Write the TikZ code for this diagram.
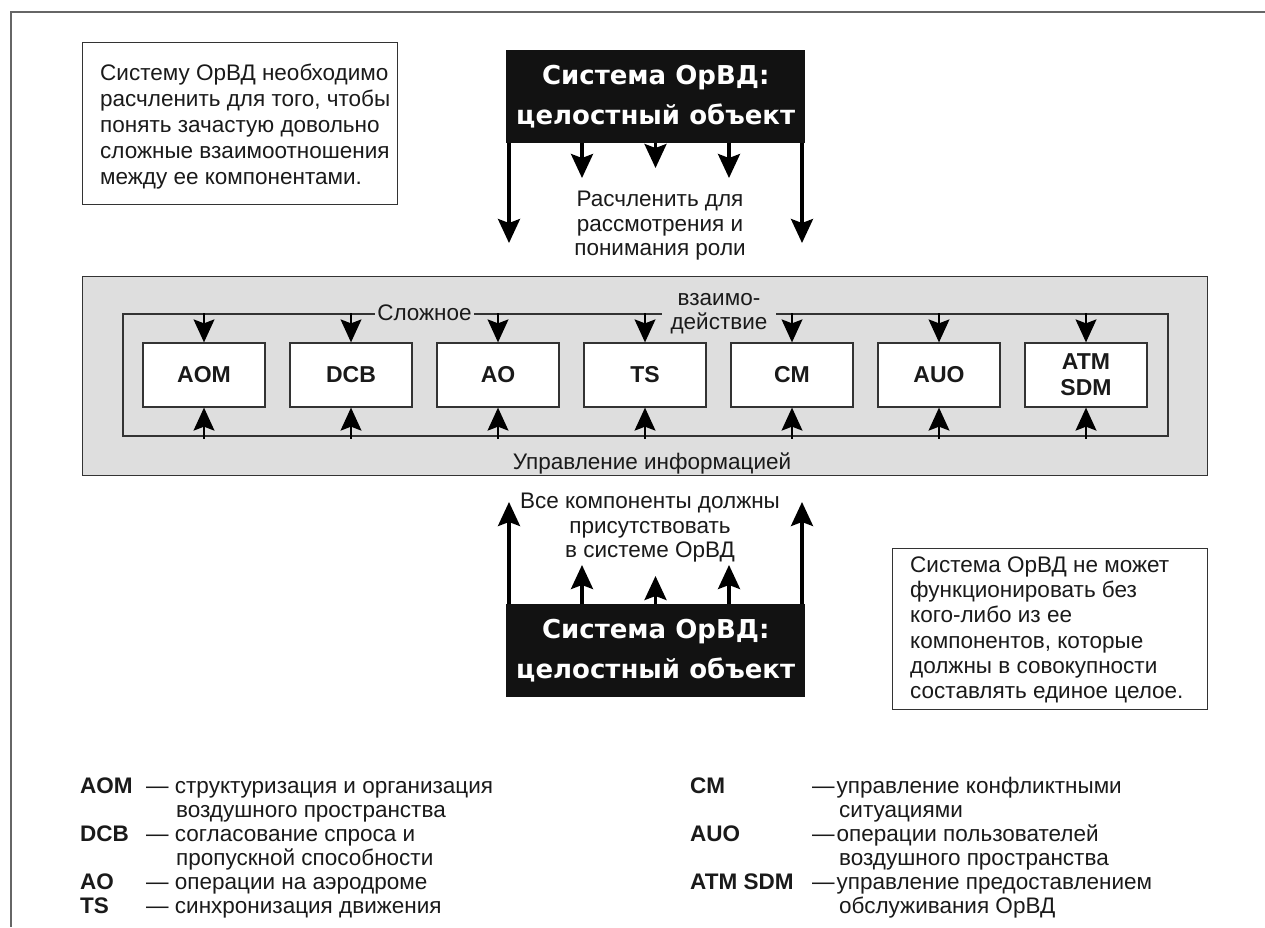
\documentclass[tikz,border=0pt]{standalone}
\usepackage{fontspec}
\setmainfont{Liberation Sans}
\newfontfamily\heavyfont{DejaVu Sans}
\usetikzlibrary{arrows.meta}
\definecolor{bggray}{HTML}{DEDEDE}
\definecolor{edge}{HTML}{333333}
\definecolor{framegray}{HTML}{666666}
\definecolor{boxblack}{HTML}{121212}
\definecolor{ink}{HTML}{1A1A1A}
\begin{document}
\begin{tikzpicture}[x=1pt,y=-1pt,
  desc/.style={draw=edge, line width=1.3pt, fill=white, inner sep=0pt},
  desctext/.style={font=\fontsize{22.5}{26}\selectfont, align=left, inner sep=0pt, text=ink},
  blackbox/.style={fill=boxblack, draw=none, text=white, font=\heavyfont\bfseries\fontsize{26}{40}\selectfont, align=center, minimum width=299pt, minimum height=93pt, inner sep=0pt},
  comp/.style={draw=edge, line width=1.3pt, fill=white, minimum width=122pt, minimum height=64pt, font=\bfseries\fontsize{23}{26}\selectfont, align=center, inner sep=0pt, text=ink},
  bigarrow/.style={line width=3.3pt, -{Stealth[length=24pt,width=22pt,inset=4pt]}},
  thinarrow/.style={line width=1.3pt, -{Stealth[length=23pt,width=21pt,inset=4pt]}},
  plain/.style={font=\fontsize{22.5}{24.5}\selectfont, align=center, inner sep=0pt, text=ink},
  leglabel/.style={font=\bfseries\fontsize{22.5}{24}\selectfont, anchor=base west, inner sep=0pt, text=ink},
  legtext/.style={font=\fontsize{22.5}{24}\selectfont, anchor=base west, inner sep=0pt, text=ink},
]
\useasboundingbox (0,0) rectangle (1265,927);
\fill[white] (0,0) rectangle (1265,927);
% outer frame lines
\draw[framegray, line width=1.5pt] (1265,12) -- (11,12) -- (11,927);

% left description
\node[desc, minimum width=315pt, minimum height=162pt, anchor=north west] (lbox) at (82,42) {};
\node[desctext, anchor=west] (ltext) at (100,127) {Систему ОрВД необходимо\\расчленить для того, чтобы\\понять зачастую довольно\\сложные взаимоотношения\\между ее компонентами.};

% top system box
\node[blackbox, anchor=north west] (topsys) at (506,50) {Система ОрВД:\\целостный объект};
\coordinate (t1) at (509,243);
\coordinate (t2) at (582,178);
\coordinate (t3) at (655.5,168);
\coordinate (t4) at (729,178);
\coordinate (t5) at (802,243);
\foreach \c in {t1,t2,t3,t4,t5} {\draw[bigarrow] (topsys.south -| \c) -- (\c);}
\node[plain] (split) at (660,226) {Расчленить для\\рассмотрения и\\понимания роли};

% grey panel
\node[draw=edge, line width=1.3pt, fill=bggray, minimum width=1125pt, minimum height=199pt, anchor=north west, inner sep=0pt] (panel) at (82,276) {};
\node[draw=edge, line width=1.5pt, minimum width=1045pt, minimum height=122pt, anchor=north west, inner sep=0pt] (inner) at (122,313) {};
\node[fill=bggray, font=\fontsize{22.5}{24}\selectfont, inner xsep=2pt, inner ysep=1pt, text=ink] (slozh) at (424.5,313) {Сложное};
\node[fill=bggray, font=\fontsize{22.5}{24}\selectfont, align=center, inner xsep=9pt, inner ysep=0pt, text=ink] (vzaim) at (719,314) {взаимо-\\действие};

\node[comp] (aom) at (204,375) {AOM};
\node[comp] (dcb) at (351,375) {DCB};
\node[comp] (ao)  at (498,375) {AO};
\node[comp] (ts)  at (645,375) {TS};
\node[comp] (cm)  at (792,375) {CM};
\node[comp] (auo) at (939,375) {AUO};
\node[comp] (atm) at (1086,375) {ATM\\SDM};
\foreach \n in {aom,dcb,ao,ts,cm,auo,atm} {
  \draw[thinarrow] (inner.north -| \n) -- (\n.north);
  \draw[thinarrow] ([yshift=-2pt]inner.south -| \n) -- (\n.south);
}
\node[plain] (info) at (652,463) {Управление информацией};

% bottom system box
\node[blackbox, anchor=north west] (botsys) at (506,604) {Система ОрВД:\\целостный объект};
\coordinate (b1) at (509,502);
\coordinate (b2) at (582,565);
\coordinate (b3) at (655.5,576);
\coordinate (b4) at (729,565);
\coordinate (b5) at (802,502);
\foreach \c in {b1,b2,b3,b4,b5} {\draw[bigarrow] (botsys.north -| \c) -- (\c);}
\node[plain] (allc) at (650,528) {Все компоненты должны\\присутствовать\\в системе ОрВД};

% right description
\node[desc, minimum width=315pt, minimum height=161pt, anchor=north west] (rbox) at (892,548) {};
\node[desctext, anchor=west, font=\fontsize{22.5}{25.3}\selectfont] (rtext) at (910,630) {Система ОрВД не может\\функционировать без\\кого-либо из ее\\компонентов, которые\\должны в совокупности\\составлять единое целое.};

% legend, left column
\node[leglabel] (lg1) at (80,793) {AOM};
\node[legtext] (lg1t) at (146,793) {— структуризация и организация};
\node[legtext] (lg1u) at (176,817) {воздушного пространства};
\node[leglabel] (lg2) at (80,841) {DCB};
\node[legtext] (lg2t) at (146,841) {— согласование спроса и};
\node[legtext] (lg2u) at (176,865) {пропускной способности};
\node[leglabel] (lg3) at (80,889) {AO};
\node[legtext] (lg3t) at (146,889) {— операции на аэродроме};
\node[leglabel] (lg4) at (80,913) {TS};
\node[legtext] (lg4t) at (146,913) {— синхронизация движения};

% legend, right column
\node[leglabel] (lg5) at (690,793) {CM};
\node[legtext] (lg5t) at (812,793) {—\hspace{2pt}управление конфликтными};
\node[legtext] (lg5u) at (839,817) {ситуациями};
\node[leglabel] (lg6) at (690,841) {AUO};
\node[legtext] (lg6t) at (812,841) {—\hspace{2pt}операции пользователей};
\node[legtext] (lg6u) at (839,865) {воздушного пространства};
\node[leglabel] (lg7) at (690,889) {ATM SDM};
\node[legtext] (lg7t) at (812,889) {—\hspace{2pt}управление предоставлением};
\node[legtext] (lg7u) at (839,913) {обслуживания ОрВД};
\end{tikzpicture}
\end{document}
